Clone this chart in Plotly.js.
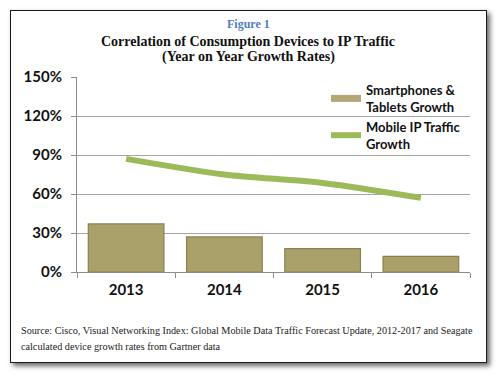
<!DOCTYPE html>
<html><head><meta charset="utf-8">
<script src="https://cdn.plot.ly/plotly-3.0.1.min.js"></script>
<style>
html,body{margin:0;padding:0;background:#fff;}
#wrap{position:relative;width:500px;height:376px;overflow:hidden;}
#frame{position:absolute;left:10px;top:10px;width:475px;height:351px;border:1.5px solid #1a1a1a;box-shadow:3px 3px 5px rgba(0,0,0,0.6);background:#fff;}
#chart{position:absolute;left:0;top:0;width:500px;height:376px;}
</style></head>
<body><div id="wrap"><div id="frame"></div><div id="chart"></div></div>
<script>
var years = ['2013','2014','2015','2016'];
var deviceGrowth = [37, 27, 18, 12];
var trafficGrowth = [87, 75, 68.5, 57];
var yTicks = [0, 30, 60, 90, 120, 150];
var yTickText = ['0%', '30%', '60%', '90%', '120%', '150%'];

var L = 77, R = 470, T = 77, B = 272;
function px(x){return (x-L)/(R-L);}
function py(y){return (B-y)/(B-T);}

var barColor = '#aaa06a';
var traces = [
  {type:'bar', x:years, y:deviceGrowth, name:'Smartphones &<br>Tablets Growth', showlegend:false,
   marker:{color:barColor, line:{color:'#8a8150', width:1.2}}, width:0.77},
  {type:'scatter', mode:'lines', x:[null], y:[null], name:'Smartphones &<br>Tablets Growth',
   line:{color:'#b3a874', width:7}, showlegend:true, hoverinfo:'skip'},
  {type:'scatter', mode:'lines', x:years, y:trafficGrowth, name:'Mobile IP Traffic<br>Growth',
   line:{color:'#9bbb59', width:6, shape:'spline', smoothing:0.8}}
];
var tf = {family:'Lato, sans-serif', size:15, color:'#111', weight:'bold'};
var layout = {
  width:500, height:376,
  margin:{l:L, r:500-R, t:T, b:376-B},
  paper_bgcolor:'rgba(0,0,0,0)', plot_bgcolor:'rgba(0,0,0,0)',
  showlegend:true,
  legend:{x:px(326), y:py(75), xanchor:'left', yanchor:'top', bgcolor:'rgba(0,0,0,0)',
    font:{family:'Lato, sans-serif', size:13, color:'#111', weight:'bold'}, tracegroupgap:4},
  title:{text:'<b>Correlation of Consumption Devices to IP Traffic</b>',
    font:{family:'Liberation Serif, serif', size:14, color:'#111'}, x:px(248)*(R-L)/500+L/500, xanchor:'center', y:1-41/376, yanchor:'middle'},
  xaxis:{type:'category', showline:true, linecolor:'#8c8c8c', linewidth:1, ticks:'outside', tickson:'boundaries',
    ticklen:5, tickcolor:'#8c8c8c', tickfont:tf, showgrid:false, ticklabelstandoff:4},
  yaxis:{range:[0,150], tickvals:yTicks, ticktext:yTickText, showline:true, linecolor:'#8c8c8c', linewidth:1,
    ticks:'outside', ticklen:5, tickcolor:'#8c8c8c', gridcolor:'#a6a6a6', gridwidth:1, zeroline:false,
    tickfont:tf, ticklabelstandoff:6},
  annotations:[
    {text:'<b>Figure 1</b>', xref:'paper', yref:'paper', x:px(248), y:py(24), xanchor:'center', yanchor:'middle',
     showarrow:false, font:{family:'Liberation Serif, serif', size:12, color:'#4f81bd'}},
    {text:'<b>(Year on Year Growth Rates)</b>', xref:'paper', yref:'paper', x:px(248), y:py(57), xanchor:'center', yanchor:'middle',
     showarrow:false, font:{family:'Liberation Serif, serif', size:14, color:'#111'}},
    {text:'Source: Cisco, Visual Networking Index: Global Mobile Data Traffic Forecast Update, 2012-2017 and Seagate',
     xref:'paper', yref:'paper', x:px(19), y:py(330), xanchor:'left', yanchor:'middle', showarrow:false,
     font:{family:'Liberation Serif, serif', size:10.2, color:'#222'}},
    {text:'calculated device growth rates from Gartner data',
     xref:'paper', yref:'paper', x:px(19), y:py(346), xanchor:'left', yanchor:'middle', showarrow:false,
     font:{family:'Liberation Serif, serif', size:10.2, color:'#222'}}
  ]
};
Plotly.newPlot('chart', traces, layout, {displayModeBar:false, staticPlot:true});
</script></body></html>
